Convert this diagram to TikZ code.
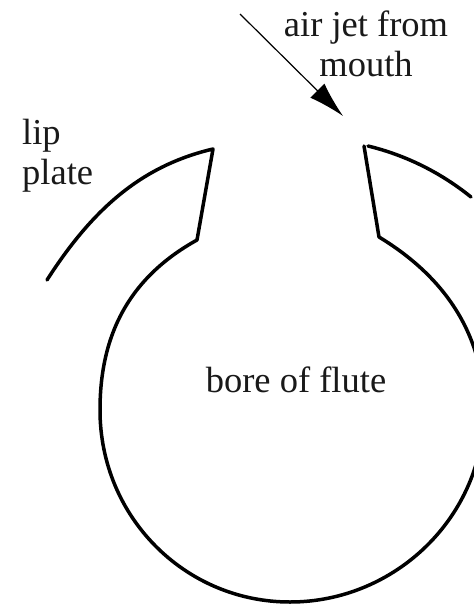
\documentclass[tikz,border=0pt]{standalone}
\usepackage{fontspec}
\usepackage{tikz}
\usetikzlibrary{arrows.meta}
\setmainfont{Liberation Serif}
\definecolor{fluteInk}{HTML}{000000}
\tikzset{wall/.style={line width=3.5pt,fluteInk,line join=round,line cap=round},
label/.style={font=\fontsize{36.5}{40}\selectfont,inner sep=0pt,text=black!90}}

\begin{document}
\begin{tikzpicture}[x=1pt,y=-1pt]
\useasboundingbox (0,0) rectangle (474,608);
\clip (0,0) rectangle (474,608);
\draw[wall] (47,280) .. controls (95,205) and (145,165) .. (213,149) -- (197,240)
  .. controls (125,280) and (100,340) .. (100,410)
  .. controls (100,517) and (185,602) .. (290,602)
  .. controls (395,602) and (484,517) .. (484,410)
  .. controls (484,340) and (450,280) .. (379,237) -- (364,146);
\draw[wall] (368,146) .. controls (405,155) and (440,172) .. (471,197);
\coordinate (jetstart) at (240,14);
\coordinate (jetend) at (343,116);
\draw[line width=1.2pt,-{Latex[length=36pt,width=20pt]}] (jetstart) -- (jetend);
\node[label,align=center] (jet) at (366,44) {air jet from\\mouth};
\node[label,align=left,anchor=west] (lip) at (22,156) {lip\\plate};
\node[label] (bore) at (296,380) {bore of flute};
\end{tikzpicture}
\end{document}
